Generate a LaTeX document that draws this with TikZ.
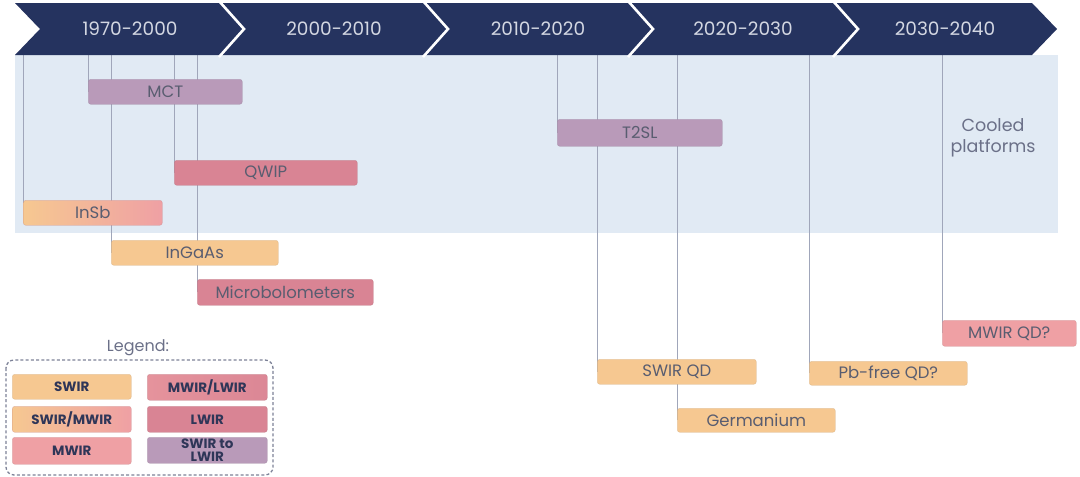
\documentclass[tikz,border=0pt]{standalone}
\usepackage{fontspec}
\setmainfont{Poppins}
\usetikzlibrary{backgrounds}
\definecolor{navy}{HTML}{25335F}
\definecolor{bandblue}{HTML}{E1EAF4}
\definecolor{hdrtext}{HTML}{D3D7E2}
\definecolor{lineg}{HTML}{A0A6BA}
\definecolor{swir}{HTML}{F6C891}
\definecolor{mwir}{HTML}{EFA0A4}
\definecolor{lwir}{HTML}{D98494}
\definecolor{mwlw}{HTML}{E5939C}
\definecolor{purp}{HTML}{B99AB9}
\definecolor{boxtext}{HTML}{595D70}
\definecolor{legtext}{HTML}{2F3658}
\definecolor{graytext}{HTML}{6B7088}
\definecolor{dashg}{HTML}{7C8197}
\begin{document}
\begin{tikzpicture}[x=1pt,y=-1pt,
  hdr/.style={text=hdrtext, font=\fontsize{18.5}{20}\selectfont},
  barbase/.style={rounded corners=2.5pt, inner sep=0pt, anchor=north west, text=boxtext,
    font=\fontsize{16.5}{18}\selectfont},
  bar/.style={barbase, fill=#1, draw=#1!80!black, draw opacity=0.35, line width=0.6pt},
  gbar/.style 2 args={barbase, left color=#1, right color=#2, draw=#2!80!black, draw opacity=0.35, line width=0.6pt},
  leg/.style={text=legtext, font=\bfseries\fontsize{13.5}{14}\selectfont, align=center},
  conn/.style={draw=lineg, line width=1.2pt},
  sep/.style={draw=white, line width=2.6pt, line join=miter}
]
\useasboundingbox (0,0) rectangle (1080,477);

% band
\begin{pgfonlayer}{background}
\fill[bandblue] (15,55) rectangle (1058,233);
\end{pgfonlayer}

% chevrons
\fill[navy] (15,3) -- (1032,3) -- (1057,29) -- (1032,55) -- (15,55) -- (40,29) -- cycle;
\foreach \xx in {219,423,628,833}{
  \draw[sep] (\xx,1) -- (\xx+25,29) -- (\xx,57);
}
\node[hdr] (h1) at (130,28.5) {1970-2000};
\node[hdr] (h2) at (334,28.5) {2000-2010};
\node[hdr] (h3) at (538,28.5) {2010-2020};
\node[hdr] (h4) at (743,28.5) {2020-2030};
\node[hdr] (h5) at (945,28.5) {2030-2040};

\coordinate (btop) at (0,55);

% technology bars
\node[bar=purp, minimum width=154pt, minimum height=25pt] (mct) at (88,79) {MCT};
\node[bar=lwir, minimum width=183pt, minimum height=25pt] (qwip) at (174,160) {QWIP};
\node[gbar={swir}{mwir}, minimum width=139pt, minimum height=25pt] (insb) at (23,200) {InSb};
\node[bar=swir, minimum width=167pt, minimum height=25pt] (ingaas) at (111,240) {InGaAs};
\node[bar=lwir, minimum width=176pt, minimum height=26pt] (micro) at (197,279) {Microbolometers};
\node[bar=purp, minimum width=165pt, minimum height=27pt] (t2sl) at (557,119) {T2SL};
\node[bar=swir, minimum width=159pt, minimum height=25pt] (swirqd) at (597,359) {SWIR QD};
\node[bar=swir, minimum width=158pt, minimum height=24pt] (ge) at (677,408) {Germanium};
\node[bar=swir, minimum width=158pt, minimum height=24pt] (pbfree) at (809,361) {Pb-free QD?};
\node[bar=mwir, minimum width=134pt, minimum height=26pt] (mwirqd) at (942,320) {MWIR QD?};

\node[text=graytext, font=\fontsize{17.5}{21.5}\selectfont, align=center] (cooled) at (993,138) {Cooled\\platforms};

% connectors
\begin{pgfonlayer}{background}
\foreach \n in {mct,qwip,insb,ingaas,micro,t2sl,swirqd,ge,pbfree,mwirqd}{
  \draw[conn] ([xshift=0.6pt]\n.west) -- ([xshift=0.6pt]\n.west |- btop);
}
\end{pgfonlayer}

% legend
\node[text=graytext, font=\fontsize{16}{18}\selectfont] (legt) at (138,348) {Legend:};
\draw[draw=dashg, line width=1.3pt, dash pattern=on 3pt off 2.2pt, rounded corners=8pt] (6,360) rectangle (273,475);
\node[bar=swir, minimum width=119pt, minimum height=25pt, leg] (l1) at (12,374) {SWIR};
\node[gbar={swir}{mwir}, minimum width=119pt, minimum height=26pt, leg] (l2) at (12,406) {SWIR/MWIR};
\node[bar=mwir, minimum width=119pt, minimum height=27pt, leg] (l3) at (12,437) {MWIR};
\node[gbar={mwlw}{lwir!80!mwlw}, minimum width=120pt, minimum height=26pt, leg] (l4) at (147,374) {MWIR/LWIR};
\node[bar=lwir, minimum width=120pt, minimum height=26pt, leg] (l5) at (147,406) {LWIR};
\node[bar=purp, minimum width=120pt, minimum height=26pt, leg, font=\bfseries\fontsize{13.5}{12.5}\selectfont] (l6) at (147,437) {SWIR to\\LWIR};
\end{tikzpicture}
\end{document}
